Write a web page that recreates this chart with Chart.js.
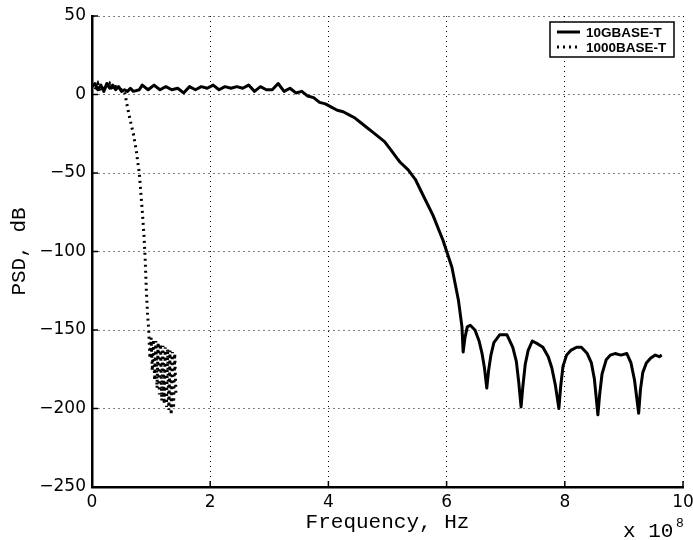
<!DOCTYPE html>
<html>
<head>
<meta charset="utf-8">
<script src="https://cdn.jsdelivr.net/npm/chart.js@4.4.0/dist/chart.umd.min.js"></script>
<style>
  html, body { margin: 0; padding: 0; background: #fff; }
</style>
</head>
<body>
<canvas id="psd-chart" width="693" height="540"></canvas>
<script>
// Frequency in units of 1e8 Hz, PSD in dB
const tenGigFreq = [0, 0.05, 0.1, 0.15, 0.2, 0.25, 0.3, 0.35, 0.4, 0.45, 0.5, 0.55, 0.6, 0.65, 0.7, 0.8, 0.85, 0.95,
  1.05, 1.15, 1.25, 1.35, 1.45, 1.55, 1.65, 1.75, 1.85, 1.95, 2.05, 2.15, 2.25, 2.35, 2.45, 2.55, 2.65, 2.75, 2.85, 2.95,
  3.05, 3.15, 3.25, 3.35, 3.45, 3.55, 3.65, 3.75, 3.85, 3.95, 4.05, 4.15, 4.25, 4.35, 4.45, 4.55, 4.65, 4.75, 4.85, 4.95,
  5.05, 5.15, 5.21, 5.35, 5.47, 5.6, 5.77, 5.94, 6.09, 6.2, 6.26, 6.28, 6.31, 6.35, 6.4, 6.48, 6.55, 6.6, 6.64, 6.68,
  6.71, 6.75, 6.8, 6.9, 7.02, 7.12, 7.18, 7.22, 7.26, 7.29, 7.33, 7.38, 7.45, 7.55, 7.63, 7.72, 7.78, 7.84, 7.9,
  7.93, 7.97, 8.03, 8.1, 8.2, 8.28, 8.38, 8.45, 8.5, 8.56, 8.59, 8.63, 8.7, 8.77, 8.85, 8.95, 9.05, 9.12, 9.18,
  9.25, 9.28, 9.32, 9.38, 9.45, 9.53, 9.6, 9.64];
const tenGigPsd = [5, 7, 3, 6, 2, 7, 4, 6, 3, 5, 2, 3, 2, 4, 2, 3, 6, 3,
  6, 3, 5, 3, 4, 1, 5, 3, 5, 4, 6, 3, 5, 4, 5, 4, 6, 2, 5, 3,
  3, 7, 2, 4, 1, 2, -1, -2, -5, -6, -8, -10, -11, -13, -15, -18, -21, -24, -27, -30,
  -35, -40, -43, -48, -54, -64, -77, -93, -110, -131, -148, -164, -155, -148, -147, -150, -157, -165, -174, -187,
  -176, -166, -158, -153, -153, -161, -170, -183, -199, -186, -172, -163, -157, -159, -161, -167, -174, -185, -200,
  -186, -173, -166, -163, -161, -161, -165, -171, -181, -204, -191, -178, -169, -166, -165, -166, -165, -171, -182,
  -203, -188, -177, -171, -168, -166, -167, -166];

const gigFreq = [0, 0.05, 0.1, 0.15, 0.2, 0.25, 0.3, 0.35, 0.4, 0.45, 0.5, 0.55, 0.6, 0.65, 0.7, 0.75, 0.8, 0.85,
  0.88, 0.9, 0.92, 0.94, 0.96, 0.98, 1.0, 1.02, 1.04, 1.06, 1.08, 1.1, 1.12, 1.14, 1.16, 1.18, 1.2, 1.22, 1.24,
  1.26, 1.28, 1.3, 1.32, 1.34, 1.36, 1.38, 1.4, 1.42];
const gigPsd = [6, 3, 7, 2, 6, 4, 7, 3, 5, 4, 3, 2, -8, -17, -25, -36, -50, -74,
  -90, -105, -125, -140, -150, -168, -155, -176, -156, -182, -157, -187, -158, -191, -159, -195, -160, -197, -161,
  -199, -162, -201, -163, -204, -164, -200, -165, -190];

const seriesNames = ['10GBASE-T', '1000BASE-T'];

const canvas = document.querySelector('#psd-chart');

function toPoints(xs, ys) {
  return xs.map((x, i) => ({ x: x, y: ys[i] }));
}

function minusSign(value) {
  return String(value).replace('-', '\u2212');
}

// legend box in the top right corner, plus the "x 10^8" exponent note
const extras = {
  id: 'extras',
  afterDraw(chart) {
    const ctx = chart.ctx;
    const area = chart.chartArea;
    ctx.save();

    // small inward tick marks on the left and bottom axes
    ctx.strokeStyle = '#000';
    ctx.lineWidth = 1.5;
    const xs = chart.scales.x, ys = chart.scales.y;
    ys.ticks.forEach(t => {
      const py = ys.getPixelForValue(t.value);
      ctx.beginPath(); ctx.moveTo(area.left, py); ctx.lineTo(area.left + 6, py); ctx.stroke();
    });
    xs.ticks.forEach(t => {
      const px = xs.getPixelForValue(t.value);
      ctx.beginPath(); ctx.moveTo(px, area.bottom); ctx.lineTo(px, area.bottom - 6); ctx.stroke();
    });

    // legend
    const bx = 550, by = 22, bw = 124, bh = 35;
    ctx.fillStyle = '#fff';
    ctx.fillRect(bx, by, bw, bh);
    ctx.lineWidth = 1.5;
    ctx.strokeRect(bx, by, bw, bh);
    chart.data.datasets.forEach((ds, i) => {
      const cy = by + 10 + i * 15;
      ctx.beginPath();
      ctx.setLineDash(ds.borderDash || []);
      ctx.lineWidth = ds.borderWidth;
      ctx.moveTo(bx + 7, cy);
      ctx.lineTo(bx + 30, cy);
      ctx.stroke();
      ctx.setLineDash([]);
      ctx.fillStyle = '#000';
      ctx.font = 'bold 13.5px "Liberation Sans"';
      ctx.textBaseline = 'middle';
      ctx.textAlign = 'left';
      ctx.fillText(ds.label, bx + 36, cy + 1);
    });

    // exponent note
    ctx.fillStyle = '#000';
    ctx.textBaseline = 'alphabetic';
    ctx.font = '21px "Liberation Mono"';
    ctx.fillText('x 10', 623, 537);
    ctx.font = '13px "Liberation Mono"';
    ctx.fillText('8', 676, 527);
    ctx.restore();
  }
};

new Chart(canvas.getContext('2d'), {
  type: 'line',
  data: {
    datasets: [
      {
        label: seriesNames[0],
        data: toPoints(tenGigFreq, tenGigPsd),
        borderColor: '#000',
        borderWidth: 3,
        borderJoinStyle: 'round',
        pointRadius: 0,
        tension: 0,
        fill: false
      },
      {
        label: seriesNames[1],
        data: toPoints(gigFreq, gigPsd),
        borderColor: '#000',
        borderWidth: 3,
        borderDash: [2, 4],
        pointRadius: 0,
        tension: 0,
        fill: false
      }
    ]
  },
  options: {
    responsive: false,
    animation: false,
    layout: { padding: { top: 16, right: 10, left: 0, bottom: 0 } },
    plugins: {
      legend: { display: false },
      tooltip: { enabled: false }
    },
    scales: {
      x: {
        type: 'linear',
        min: 0,
        max: 10,
        ticks: {
          stepSize: 2,
          color: '#000',
          padding: 5,
          maxRotation: 0,
          font: { family: '"DejaVu Sans"', size: 17 },
          callback: minusSign
        },
        grid: { color: '#000', lineWidth: 1, drawTicks: false },
        border: { color: '#000', width: 2.5, dash: [1, 4] },
        title: {
          display: true,
          text: 'Frequency, Hz',
          color: '#000',
          font: { family: '"Liberation Mono"', size: 21 },
          padding: { top: 0, bottom: 5 }
        },
        afterFit(scale) {
          scale.height = 53;
          scale.paddingLeft = 0;
          scale.paddingRight = 0;
        }
      },
      y: {
        min: -250,
        max: 50,
        ticks: {
          stepSize: 50,
          color: '#000',
          padding: 6,
          font: { family: '"DejaVu Sans"', size: 17 },
          callback: minusSign
        },
        grid: { color: '#000', lineWidth: 1, drawTicks: false },
        border: { color: '#000', width: 2.5, dash: [1, 4] },
        title: {
          display: true,
          text: 'PSD, dB',
          color: '#000',
          font: { family: '"Liberation Mono"', size: 21 },
          padding: { top: 7, bottom: 0 }
        },
        afterFit(scale) {
          scale.width = 92;
          scale.paddingTop = 0;
          scale.paddingBottom = 0;
        }
      }
    }
  },
  plugins: [extras]
});
</script>
</body>
</html>
